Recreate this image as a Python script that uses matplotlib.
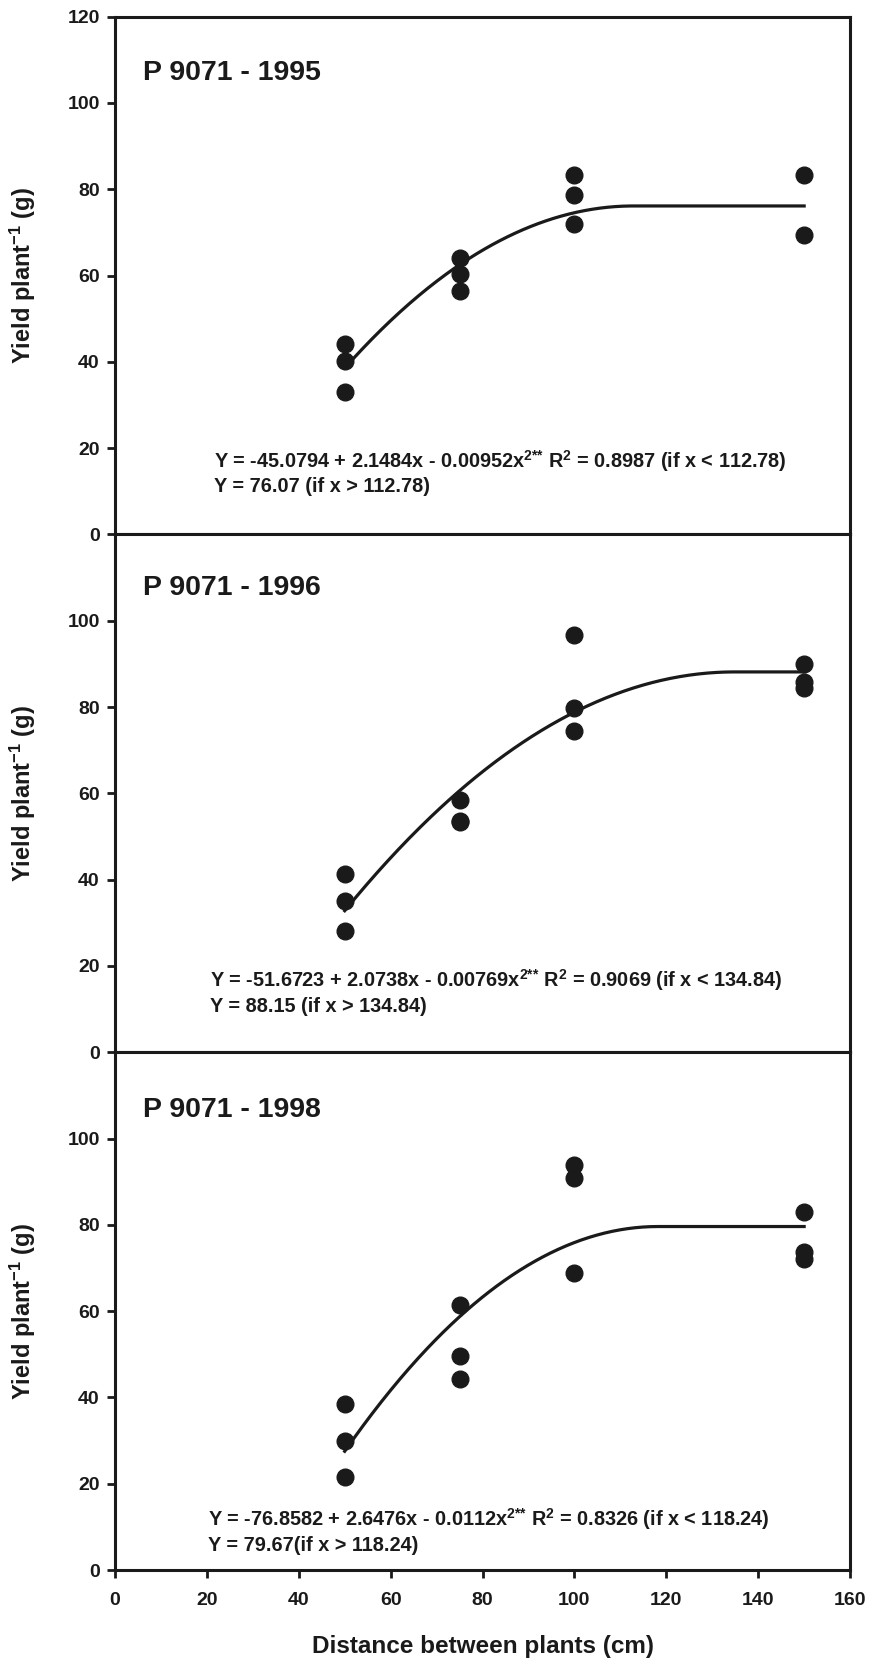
import numpy as np
import matplotlib
matplotlib.use('Agg')
import matplotlib.pyplot as plt
from matplotlib import font_manager

# pick a condensed bold face if there is one
names = {f.name for f in font_manager.fontManager.ttflist}
narrow = 'Liberation Sans Narrow' if 'Liberation Sans Narrow' in names else 'Liberation Sans'

plt.rcParams['font.family'] = [narrow, 'DejaVu Sans']
plt.rcParams['font.weight'] = 'bold'
plt.rcParams['mathtext.fontset'] = 'custom'
plt.rcParams['mathtext.rm'] = narrow + ':bold'
plt.rcParams['mathtext.it'] = narrow + ':bold'
plt.rcParams['mathtext.bf'] = narrow + ':bold'
plt.rcParams['mathtext.sf'] = 'Liberation Sans:bold'

# data
dist = [50, 75, 100, 150]

titles = ['P 9071 - 1995', 'P 9071 - 1996', 'P 9071 - 1998']

yield95 = [[44.2, 40.1, 33.0], [64.1, 60.4, 56.5], [83.4, 78.6, 72.0], [83.2, 69.4]]
yield96 = [[41.3, 35.0, 28.1], [58.4, 53.4, 53.6], [96.6, 79.7, 74.4], [90.0, 85.9, 84.3]]
yield98 = [[38.4, 30.0, 21.5], [61.5, 49.6, 44.3], [93.8, 90.9, 68.8], [83.0, 73.8, 72.0]]

# quadratic-plateau fits: b0, b1, b2, join point
fit95 = [-45.0794, 2.1484, -0.00952, 112.78]
fit96 = [-51.6723, 2.0738, -0.00769, 134.84]
fit98 = [-76.8582, 2.6476, -0.0112, 118.24]

eq95 = ['Y = -45.0794 + 2.1484x - 0.00952x$^{2{*}{*}}$ R$^{2}$ = 0.8987 (if x < 112.78)',
        'Y = 76.07 (if x > 112.78)']
eq96 = ['Y = -51.6723 + 2.0738x - 0.00769x$^{2{*}{*}}$ R$^{2}$ = 0.9069 (if x < 134.84)',
        'Y = 88.15 (if x > 134.84)']
eq98 = ['Y = -76.8582 + 2.6476x - 0.0112x$^{2{*}{*}}$ R$^{2}$ = 0.8326 (if x < 118.24)',
        'Y = 79.67(if x > 118.24)']

yields = [yield95, yield96, yield98]
fits = [fit95, fit96, fit98]
eqs = [eq95, eq96, eq98]
title_y = [107.0, 107.7, 106.6]
eq_x = [21.5, 20.7, 20.2]
eq_y = [(17.0, 11.0), (16.8, 10.6), (11.8, 5.6)]

ink = '#1a1a1a'

fig, axes = plt.subplots(3, 1, figsize=(8.71, 16.66), dpi=100, gridspec_kw={'hspace': 0})
fig.subplots_adjust(left=0.132, right=0.976, top=0.990, bottom=0.0576)

xs = np.linspace(50, 150, 300)
for i, ax in enumerate(axes):
    for d, vals in zip(dist, yields[i]):
        ax.plot([d] * len(vals), vals, 'o', color=ink, markersize=12, zorder=3)

    b0, b1, b2, xj = fits[i]
    plateau = b0 + b1 * xj + b2 * xj ** 2
    ys = np.where(xs < xj, b0 + b1 * xs + b2 * xs ** 2, plateau)
    ax.plot(xs, ys, color=ink, lw=2.3)

    ax.text(6.1, title_y[i], titles[i], fontsize=20.5, va='center', ha='left', color=ink)
    ax.text(eq_x[i], eq_y[i][0], eqs[i][0], fontsize=14.3, va='center', ha='left', color=ink)
    ax.text(eq_x[i], eq_y[i][1], eqs[i][1], fontsize=14.3, va='center', ha='left', color=ink)

    ax.set_xlim(0, 160)
    ax.set_ylim(0, 120)
    if i == 0:
        ax.set_yticks(np.arange(0, 121, 20))
    else:
        ax.set_yticks(np.arange(0, 101, 20))
    ax.set_ylabel('Yield plant$^{\\mathsf{-1}}$ (g)', family='Liberation Sans',
                  fontsize=17, fontweight='bold', color=ink)
    ax.yaxis.set_label_coords(-0.105, 0.5)

    for s in ax.spines.values():
        s.set_linewidth(2.2)
        s.set_color(ink)
    ax.tick_params(axis='y', direction='out', length=6, width=2.0, labelsize=14, pad=5,
                   color=ink, labelcolor=ink)
    if i < 2:
        ax.tick_params(axis='x', bottom=False, labelbottom=False)
    else:
        ax.set_xticks(np.arange(0, 161, 20))
        ax.tick_params(axis='x', direction='out', length=6, width=2.0, labelsize=14, pad=10,
                       color=ink, labelcolor=ink)
        ax.set_xlabel('Distance between plants (cm)', fontsize=17.5, fontweight='bold', color=ink)
        ax.xaxis.set_label_coords(0.5, -0.126)

fig.savefig('out.png', dpi=100)
